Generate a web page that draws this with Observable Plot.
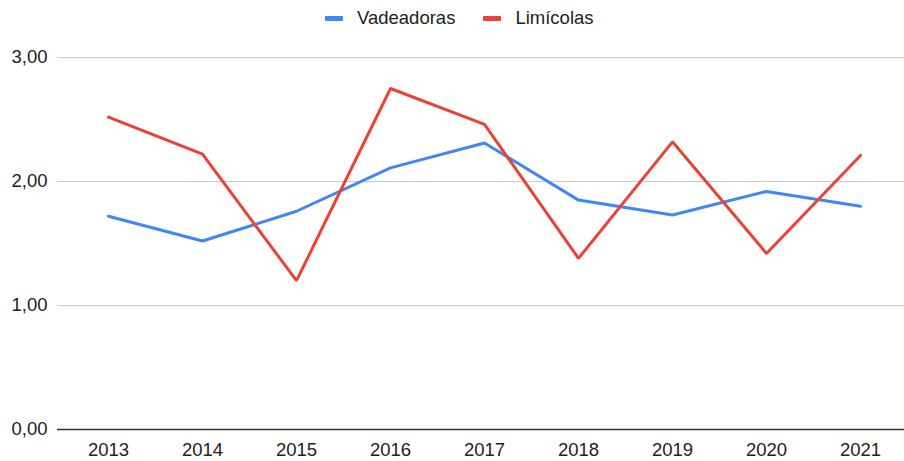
<!DOCTYPE html>
<html>
<head>
<meta charset="utf-8">
<script src="https://cdn.jsdelivr.net/npm/d3@7"></script>
<script src="https://cdn.jsdelivr.net/npm/@observablehq/plot@0.6"></script>
<style>
  html, body { margin: 0; padding: 0; background: #fff; }
  body { width: 904px; height: 461px; overflow: hidden; font-family: "Liberation Sans", Arial, sans-serif; }
  #legend { height: 36px; display: flex; align-items: center; padding-left: 325px; box-sizing: border-box; font-size: 18.5px; color: #222; }
  .item { display: flex; align-items: center; }
  .sw { width: 18px; height: 5px; margin-right: 14px; border-radius: 1px; }
  .item + .item { margin-left: 28px; }
  svg { display: block; }
</style>
</head>
<body>
<div id="legend"></div>
<div id="chart"></div>
<script>
const years = ["2013", "2014", "2015", "2016", "2017", "2018", "2019", "2020", "2021"];
const vadeadoras = [1.72, 1.52, 1.76, 2.11, 2.31, 1.85, 1.73, 1.92, 1.80];
const limicolas = [2.52, 2.22, 1.20, 2.75, 2.46, 1.38, 2.32, 1.42, 2.21];
const seriesNames = ["Vadeadoras", "Limícolas"];
const seriesColors = ["#4285F4", "#EA4335"];
const yTicks = [0, 1, 2, 3];

const data = [
  ...years.map((y, i) => ({year: y, value: vadeadoras[i], series: seriesNames[0]})),
  ...years.map((y, i) => ({year: y, value: limicolas[i], series: seriesNames[1]}))
];

const legend = document.getElementById("legend");
seriesNames.forEach((n, i) => {
  const it = document.createElement("div");
  it.className = "item";
  const sw = document.createElement("div");
  sw.className = "sw";
  sw.style.background = seriesColors[i];
  const tx = document.createElement("span");
  tx.textContent = n;
  it.appendChild(sw); it.appendChild(tx);
  legend.appendChild(it);
});

const fmt = d => d3.format(".2f")(d).replace(".", ",");

const chart = Plot.plot({
  width: 904,
  height: 425,
  marginLeft: 57,
  marginRight: -6,
  marginTop: 21,
  marginBottom: 32,
  style: { fontFamily: "'Liberation Sans', Arial, sans-serif", fontSize: "18.5px", color: "#222", background: "#fff" },
  x: { type: "point", domain: years, padding: 0.5, label: null },
  y: { domain: [0, 3], ticks: yTicks, label: null },
  color: { domain: seriesNames, range: seriesColors },
  marks: [
    Plot.gridY(yTicks.filter(d => d !== 0), { stroke: "#cccccc", strokeOpacity: 1, strokeWidth: 1.2 }),
    Plot.axisY(yTicks, { tickSize: 0, tickPadding: 10, tickFormat: fmt, label: null, fill: "#222" }),
    Plot.axisX(years, { tickSize: 0, tickPadding: 13, label: null, fill: "#222" }),
    Plot.ruleY([0], { stroke: "#333", strokeWidth: 1.5 }),
    Plot.line(data, { x: "year", y: "value", z: "series", stroke: "series", strokeWidth: 3, strokeLinejoin: "miter" })
  ]
});
document.getElementById("chart").appendChild(chart);
</script>
</body>
</html>
